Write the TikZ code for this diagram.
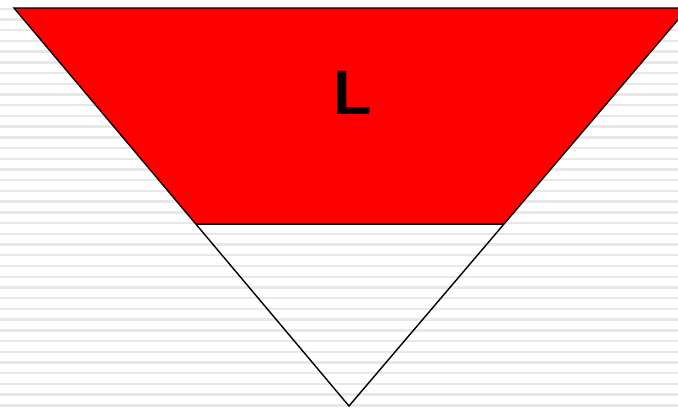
\documentclass[tikz,border=0pt]{standalone}
\usepackage{fontspec}
\setmainfont{Liberation Sans}
\definecolor{stripe}{RGB}{232,232,232}
\definecolor{tred}{RGB}{255,0,0}
\tikzset{
  stripeline/.style={draw=stripe, line width=2.4pt},
  edge/.style={draw=black, line width=1.4pt, line join=miter},
  label/.style={font=\fontsize{62.8}{62.8}\selectfont\bfseries, inner sep=0pt, anchor=base west}
}
\begin{document}
\begin{tikzpicture}[x=1pt,y=-1pt]
\useasboundingbox (0,0) rectangle (678,408);
\fill[white] (0,0) rectangle (678,408);
\foreach \i in {0,...,37}{
  \draw[stripeline] (0,{8.7+10.72*\i}) -- (678,{8.7+10.72*\i});
}
\coordinate (tl) at (14,8);
\coordinate (tr) at (688,8);
\coordinate (bl) at (195.8,224);
\coordinate (br) at (504,224);
\coordinate (bot) at (349,406);
\fill[tred] (tl) -- (tr) -- (br) -- (bl) -- cycle;
\draw[edge] (bl) -- (br);
\draw[edge] (tl) -- (tr) -- (bot) -- cycle;
\node[label] (L) at (333.7,114.3) {L};
\end{tikzpicture}
\end{document}
